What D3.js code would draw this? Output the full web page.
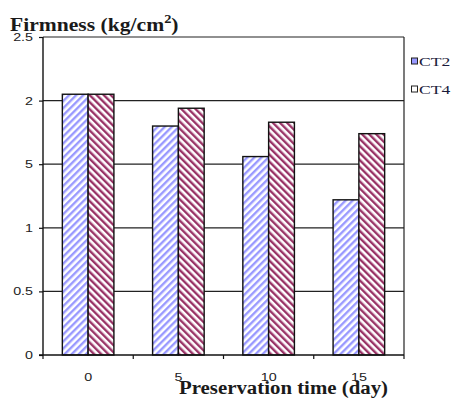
<!DOCTYPE html>
<html><head><meta charset="utf-8">
<script src="https://cdn.jsdelivr.net/npm/d3@7"></script>
<style>body{margin:0;background:#fff}svg{display:block}</style>
</head><body>
<svg id="c" width="454" height="398"></svg>
<script>
const categories = ["0","5","10","15"];
const seriesNames = ["CT2","CT4"];
const ct2 = [2.05, 1.80, 1.56, 1.22];
const ct4 = [2.05, 1.94, 1.83, 1.74];
const yTicks = [0, 0.5, 1, 1.5, 2, 2.5];
const yTickLabels = ["0","0.5","1","5","2","2.5"];

const svg = d3.select("#c");
const L = 43, R = 404, T = 37, B = 355;
const x = d3.scaleBand().domain(categories).range([L, R]);
const xs = d3.scaleBand().domain(seriesNames).range([0, x.bandwidth()]).paddingOuter(0.75).paddingInner(0);
const y = d3.scaleLinear().domain([0, 2.5]).range([B, T]);

function stretch(sel, f) {
  sel.each(function() {
    const w = this.getComputedTextLength();
    d3.select(this).attr("textLength", w * f).attr("lengthAdjust", "spacingAndGlyphs");
  });
}

const defs = svg.append("defs");
function hatch(id, color, angle) {
  const p = defs.append("pattern").attr("id", id).attr("patternUnits", "userSpaceOnUse")
    .attr("width", 5).attr("height", 5).attr("patternTransform", `rotate(${angle})`);
  p.append("rect").attr("width", 5).attr("height", 5).attr("fill", "#fff");
  p.append("rect").attr("width", 2.4).attr("height", 5).attr("fill", color);
}
hatch("h1", "#9999ff", 45);
hatch("h2", "#993366", -45);

svg.append("g").selectAll("line").data(yTicks.filter(d => d > 0)).join("line")
  .attr("x1", L).attr("x2", R).attr("y1", d => y(d)).attr("y2", d => y(d))
  .attr("stroke", "#222").attr("stroke-width", 1.2);
svg.append("line").attr("x1", R).attr("x2", R).attr("y1", T).attr("y2", B).attr("stroke", "#222").attr("stroke-width", 1.2);

const data = [ct2, ct4];
const fills = ["url(#h1)", "url(#h2)"];
seriesNames.forEach((s, si) => {
  svg.append("g").selectAll("rect").data(categories).join("rect")
    .attr("x", c => x(c) + xs(s))
    .attr("width", xs.bandwidth())
    .attr("y", (c, i) => y(data[si][i]))
    .attr("height", (c, i) => B - y(data[si][i]))
    .attr("fill", fills[si]).attr("stroke", "#111").attr("stroke-width", 1.4);
});

const ya = svg.append("g").attr("transform", `translate(${L},0)`)
  .call(d3.axisLeft(y).tickValues(yTicks).tickSize(4).tickPadding(6)
    .tickFormat((d, i) => yTickLabels[i]));
ya.select(".domain").attr("stroke", "#111").attr("stroke-width", 1.4).attr("d", `M0,${T}V${B}`);
ya.selectAll(".tick line").attr("stroke", "#111").attr("stroke-width", 1.2);
ya.selectAll("text").attr("font-family", "Liberation Sans, Arial, sans-serif").attr("font-size", 11).attr("fill", "#222");
stretch(ya.selectAll("text"), 1.3);

const xa = svg.append("g").attr("transform", `translate(0,${B})`)
  .call(d3.axisBottom(x).tickSize(0).tickPadding(18));
xa.select(".domain").attr("stroke", "#111").attr("stroke-width", 1.4).attr("d", `M${L-4},0H${R}`);
xa.selectAll("text").attr("font-family", "Liberation Sans, Arial, sans-serif").attr("font-size", 11).attr("fill", "#222");
stretch(xa.selectAll("text"), 1.3);
svg.append("g").selectAll("line").data(categories).join("line")
  .attr("x1", c => x(c)).attr("x2", c => x(c)).attr("y1", B).attr("y2", B + 4)
  .attr("stroke", "#111").attr("stroke-width", 1.2);
svg.append("line").attr("x1", R).attr("x2", R).attr("y1", B).attr("y2", B + 4).attr("stroke", "#111").attr("stroke-width", 1.2);

const tg = svg.append("g").attr("transform", "translate(10,31) scale(1.2,1)");
const t = tg.append("text").attr("x", 0).attr("y", 0)
  .attr("font-family", "Liberation Serif, Times New Roman, serif").attr("font-weight", "bold")
  .attr("font-size", 18).attr("fill", "#1a1a1a");
t.append("tspan").text("Firmness (kg/cm");
t.append("tspan").attr("font-size", 12).attr("dy", -8).text("2");
t.append("tspan").attr("dy", 8).text(")");

const xt = svg.append("text").attr("x", 179).attr("y", 394)
  .attr("font-family", "Liberation Serif, Times New Roman, serif").attr("font-weight", "bold")
  .attr("font-size", 18).attr("fill", "#1a1a1a").text("Preservation time (day)");
xt.attr("textLength", 209).attr("lengthAdjust", "spacingAndGlyphs");

const lg = svg.append("g");
const swFill = ["#9999ff", "#fff"];
seriesNames.forEach((s, i) => {
  const yy = 61 + i * 28;
  lg.append("rect").attr("x", 411.5).attr("y", yy - 3).attr("width", 6).attr("height", 6)
    .attr("fill", swFill[i]).attr("stroke", "#222").attr("stroke-width", 1);
  const tx = lg.append("text").attr("x", 419).attr("y", yy + 4.5)
    .attr("font-family", "Liberation Serif, Times New Roman, serif").attr("font-size", 13)
    .attr("fill", "#1a1a3a").text(s);
  stretch(tx, 1.35);
});
</script>
</body></html>
